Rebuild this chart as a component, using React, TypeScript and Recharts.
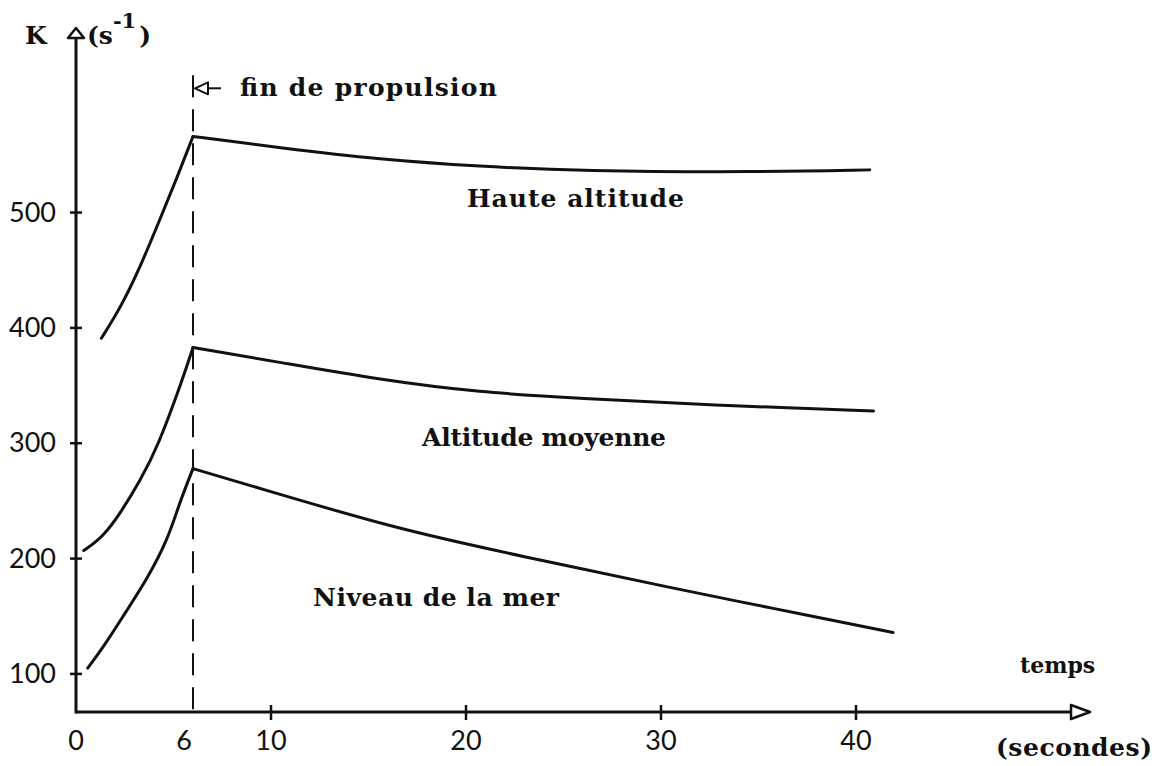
import React from "react";
import {
  ComposedChart,
  Line,
  XAxis,
  YAxis,
  ReferenceLine,
} from "recharts";

// time (s) and K (s^-1) for each regime, split at burnout (t = 6 s)
const hauteRiseT = [1.3, 2.3, 3.3, 4.3, 5.2, 6];
const hauteRiseK = [391, 418, 453, 494, 531, 566];
const hauteFallT = [6, 10.5, 15.6, 20.7, 25.8, 35.1, 40.7];
const hauteFallK = [566, 556, 546, 540, 536, 535, 537];

const moyenneRiseT = [0.4, 1.4, 2.3, 3.3, 4.2, 5.5, 6];
const moyenneRiseK = [207, 219, 240, 268, 297, 357, 383];
const moyenneFallT = [6, 10.5, 15.6, 20.7, 25.8, 32.5, 40.9];
const moyenneFallK = [383, 370, 355, 344, 339, 333, 328];

const merRiseT = [0.6, 1.4, 2.6, 3.6, 4.7, 5.3, 6];
const merRiseK = [105, 123, 155, 181, 216, 248, 278];
const merFallT = [6, 9.4, 16.6, 22.6, 31, 35.4, 41.9];
const merFallK = [278, 261, 225, 203, 173, 158, 136];

const xTicks = [0, 6, 10, 20, 30, 40];
const yTicks = [100, 200, 300, 400, 500];

const BURNOUT = 6;
const X_MAX = 52;
const Y_MIN = 67;
const Y_MAX = 660;
const DASH_TOP = 619;

const INK = "#111";
const TYPE_FONT = '"DejaVu Serif", "Liberation Serif", serif';
const NUM_FONT = 'Lato, "Open Sans", sans-serif';

const toPoints = (ts: number[], ks: number[]) => ts.map((t, i) => ({ t, k: ks[i] }));

const segments = [
  toPoints(hauteRiseT, hauteRiseK),
  toPoints(hauteFallT, hauteFallK),
  toPoints(moyenneRiseT, moyenneRiseK),
  toPoints(moyenneFallT, moyenneFallK),
  toPoints(merRiseT, merRiseK),
  toPoints(merFallT, merFallK),
];

function TimeTick({ x, y, payload }: any) {
  const v = payload.value as number;
  return (
    <g>
      {v >= 10 && <line x1={x} x2={x} y1={y - 7} y2={y + 8} stroke={INK} strokeWidth={2.5} />}
      <text
        x={x + (v === BURNOUT ? -9 : 0)}
        y={y + 38}
        textAnchor="middle"
        fontFamily={NUM_FONT}
        fontSize={27}
        fill={INK}
      >
        {v}
      </text>
    </g>
  );
}

function KTick({ x, y, payload }: any) {
  return (
    <g>
      <line x1={x - 6} x2={x + 6} y1={y} y2={y} stroke={INK} strokeWidth={2.5} />
      <text x={x - 20} y={y + 9} textAnchor="end" fontFamily={NUM_FONT} fontSize={27} fill={INK}>
        {payload.value}
      </text>
    </g>
  );
}

// axis line ending in a hollow arrowhead
function AxisArrow({ x1, y1, x2, y2, dir }: any) {
  if (dir === "right") {
    const left = Math.min(x1, x2);
    const tip = Math.max(x1, x2);
    const base = tip - 19;
    return (
      <g>
        <line x1={left} x2={base} y1={y1} y2={y1} stroke={INK} strokeWidth={3} />
        <polygon
          points={`${base},${y1 - 7} ${tip},${y1} ${base},${y1 + 7}`}
          fill="#fff"
          stroke={INK}
          strokeWidth={2.5}
          strokeLinejoin="round"
        />
      </g>
    );
  }
  const bottom = Math.max(y1, y2);
  const tip = Math.min(y1, y2);
  const base = tip + 10;
  return (
    <g>
      <line x1={x1} x2={x1} y1={bottom + 1.5} y2={base} stroke={INK} strokeWidth={3} />
      <polygon
        points={`${x1 - 8},${base} ${x1},${tip} ${x1 + 8},${base}`}
        fill="#fff"
        stroke={INK}
        strokeWidth={2.5}
        strokeLinejoin="round"
      />
    </g>
  );
}

const captionStyle = {
  fontFamily: TYPE_FONT,
  fontWeight: "bold" as const,
  fontSize: 25,
  fill: INK,
  lengthAdjust: "spacing" as const,
};

// dashed burnout marker with its pointer and caption
function BurnoutMarker({ x1, y1, y2 }: any) {
  const top = Math.min(y1, y2);
  const bottom = Math.max(y1, y2);
  const ay = top + 13;
  return (
    <g>
      <line x1={x1} x2={x1} y1={top} y2={bottom} stroke={INK} strokeWidth={2} strokeDasharray="22 12" />
      <polygon
        points={`${x1 + 2},${ay} ${x1 + 15},${ay - 6} ${x1 + 15},${ay + 6}`}
        fill="#fff"
        stroke={INK}
        strokeWidth={2}
        strokeLinejoin="round"
      />
      <line x1={x1 + 15} x2={x1 + 28} y1={ay} y2={ay} stroke={INK} strokeWidth={2} />
      <text x={x1 + 47} y={ay + 8} textLength={257} {...captionStyle}>
        fin de propulsion
      </text>
    </g>
  );
}

export default function App() {
  return (
    <div style={{ position: "absolute", left: 0, top: 0, width: 1161, height: 766, background: "#fff" }}>
      <ComposedChart width={1161} height={766} margin={{ top: 28, right: 71, bottom: 0, left: 0 }}>
        <XAxis
          type="number"
          dataKey="t"
          domain={[0, X_MAX]}
          ticks={xTicks}
          height={54}
          axisLine={false}
          tickLine={false}
          tickSize={0}
          tickMargin={0}
          tick={(p: any) => <TimeTick {...p} />}
          allowDataOverflow
        />
        <YAxis
          type="number"
          domain={[Y_MIN, Y_MAX]}
          ticks={yTicks}
          width={76}
          axisLine={false}
          tickLine={false}
          tickSize={0}
          tickMargin={0}
          tick={(p: any) => <KTick {...p} />}
          allowDataOverflow
        />
        <ReferenceLine
          segment={[
            { x: BURNOUT, y: Y_MIN },
            { x: BURNOUT, y: DASH_TOP },
          ]}
          shape={(p: any) => <BurnoutMarker {...p} />}
        />
        {segments.map((pts, i) => (
          <Line
            key={i}
            data={pts}
            dataKey="k"
            type="basis"
            stroke={INK}
            strokeWidth={3}
            strokeLinecap="round"
            dot={false}
            activeDot={false}
            isAnimationActive={false}
          />
        ))}
        <ReferenceLine y={Y_MIN} ifOverflow="visible" shape={(p: any) => <AxisArrow {...p} dir="right" />} />
        <ReferenceLine x={0} ifOverflow="visible" shape={(p: any) => <AxisArrow {...p} dir="up" />} />
      </ComposedChart>
      <svg
        width={1161}
        height={766}
        style={{ position: "absolute", left: 0, top: 0, pointerEvents: "none" }}
      >
        <text x={25} y={44} {...captionStyle}>
          K
        </text>
        <text x={87} y={44} {...captionStyle}>
          (s
          <tspan dy={-16} fontSize={21}>
            -1
          </tspan>
          <tspan dy={16} dx={3}>
            )
          </tspan>
        </text>
        <text x={467} y={207} textLength={217} {...captionStyle}>
          Haute altitude
        </text>
        <text x={422} y={446} textLength={244} {...captionStyle}>
          Altitude moyenne
        </text>
        <text x={313} y={606} textLength={246} {...captionStyle}>
          Niveau de la mer
        </text>
        <text x={1020} y={673} {...captionStyle} fontSize={22}>
          temps
        </text>
        <text x={996} y={756} textLength={156} {...captionStyle}>
          (secondes)
        </text>
      </svg>
    </div>
  );
}
